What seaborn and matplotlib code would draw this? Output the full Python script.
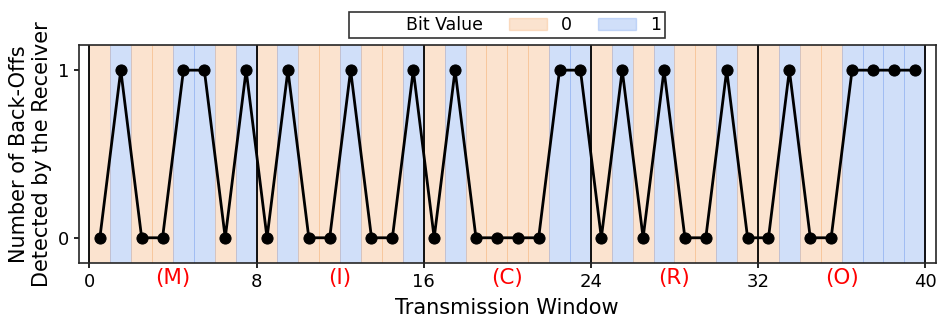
import pandas as pd
import matplotlib.pyplot as plt
import seaborn as sns
from matplotlib.patches import Patch
from matplotlib.transforms import blended_transform_factory

# data: one bit per transmission window ("MICRO")
letters = ["(M)", "(I)", "(C)", "(R)", "(O)"]
backoffs = [0, 1, 0, 0, 1, 1, 0, 1,
            0, 1, 0, 0, 1, 0, 0, 1,
            0, 1, 0, 0, 0, 0, 1, 1,
            0, 1, 0, 1, 0, 0, 1, 0,
            0, 1, 0, 0, 1, 1, 1, 1]
windows = [i + 0.5 for i in range(len(backoffs))]
xticks = [0, 8, 16, 24, 32, 40]

c0 = "sandybrown"
c1 = "cornflowerblue"

df = pd.DataFrame({"window": windows, "backoffs": backoffs})

sns.set_style("ticks")
plt.rcParams["font.family"] = ["DejaVu Sans"]
for key in ["text.color", "axes.labelcolor", "xtick.color", "ytick.color"]:
    plt.rcParams[key] = "black"

fig = plt.figure(figsize=(9.47, 3.25), dpi=100)
ax = fig.add_axes([0.0834, 0.191, 0.9046, 0.6705])

# background shading per window
for i, b in enumerate(backoffs):
    col = c1 if b == 1 else c0
    ax.axvspan(i, i + 1, facecolor=col, edgecolor=col, lw=0.6, alpha=0.3, zorder=0)

# byte boundaries
for x in xticks:
    ax.axvline(x, color="black", lw=1.3, zorder=1)

sns.lineplot(data=df, x="window", y="backoffs", color="black", lw=2,
             marker="o", markersize=8, markeredgecolor="black", ax=ax, zorder=3)

ax.set_xlim(-0.5, 40.5)
ax.set_ylim(-0.15, 1.15)
ax.set_xticks(xticks)
ax.set_yticks([0, 1])
ax.tick_params(labelsize=13, width=1.2)
ax.set_xlabel("Transmission Window", fontsize=15, labelpad=5)
ax.set_ylabel("Number of Back-Offs\nDetected by the Receiver", fontsize=15)
for s in ax.spines.values():
    s.set_linewidth(1.2)

trans = blended_transform_factory(ax.transData, ax.transAxes)
for k, lab in enumerate(letters):
    ax.text(8 * k + 4, -0.025, lab, transform=trans, ha="center", va="top",
            color="red", fontsize=15.5)

handles = [Patch(visible=False, label="Bit Value"),
           Patch(facecolor=c0, edgecolor=c0, alpha=0.3, label="0"),
           Patch(facecolor=c1, edgecolor=c1, alpha=0.3, label="1")]
leg = ax.legend(handles=handles, ncol=3, loc="lower center",
                bbox_to_anchor=(0.5, 1.03), fontsize=12.5, frameon=True,
                fancybox=False, edgecolor="black", borderaxespad=0,
                handlelength=2.2, columnspacing=1.5, borderpad=0.25)
leg.get_frame().set_linewidth(1.2)

fig.savefig("out.png", dpi=100)
